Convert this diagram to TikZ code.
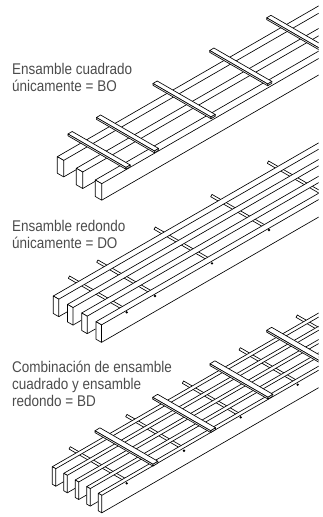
\documentclass[tikz,border=0pt]{standalone}
\usepackage{fontspec}
\setmainfont[FakeStretch=0.87]{Liberation Sans}
\usepackage{tikz}
\definecolor{lblgray}{gray}{0.3}
\tikzset{
	part/.style={draw=black,line width=0.65pt,fill=white,line join=round},
	lbl/.style={anchor=north west,inner sep=0pt,align=left,text=lblgray,font=\fontsize{15.5}{16.8}\selectfont}
}
\newcommand{\drawrail}[4]{
	\draw[part] #1 -- ++(400,-230.8) -- ++(#2,0.577*#2) -- ++(-400,230.8) -- cycle;
	\draw[part] #1 -- ++(0,#3) -- ++(#2,0.577*#2) -- ++(0,-#3) -- cycle;
	\draw[part] #1 ++(#2,0.577*#2) ++(0,#3) -- ++(#4,-0.577*#4);
}
\newcommand{\drawcross}[5]{
	\draw[part] #1 -- ++(#2,0.577*#2) -- ++(#3,-#4) -- ++(-#2,-0.577*#2) -- cycle;
	\draw[part] #1 -- ++(0,#5) -- ++(#2,0.577*#2) -- ++(0,-#5) -- cycle;
	\draw[part] #1 ++(#2,0.577*#2) ++(0,#5) -- ++(#3,-#4) -- ++(0,-#5) -- ++(-#3,#4) -- cycle;
}
\newcommand{\drawrod}[1]{
	\draw[part] #1 -- ++(55,31.7) -- ++(1.3,-2.3) -- ++(-55,-31.7) -- cycle;
}
\begin{document}
\begin{tikzpicture}[x=1pt,y=-1pt]
	\useasboundingbox (0,0) rectangle (323,517);
	\begin{scope}
		\clip (0,0) rectangle (318.5,517);
		\foreach \i / \j / \k in {57.3/156.7/12.6,76.3/168.3/12.6,95.3/180/400} {
			\drawrail{(\i,\j)}{6.4}{16.5}{\k};
		}
		\foreach \i / \j in {68/134,96.4/117.5,153/83.5,209.7/50.5,266.7/17.8} {
			\drawcross{(\i,\j)}{58}{4.2}{2.5}{1.8};
		}
		\foreach \i / \j in {68.3/278.3,96.7/262.3,154/229.3,210.7/196.7,267.3/163.3} {
			\drawrod{(\i,\j)};
		}
		\foreach \i / \j / \k in {53.3/296/8.2,67.5/304.4/8.2,81.7/313/8.2,96/321.7/400} {
			\drawrail{(\i,\j)}{5.5}{17.5}{\k};
		}
		\foreach \i / \j in {126.7/312.3,155/296,212/263.3,269/230} {
			\fill (\i,\j) circle (1.3);
		}
		\foreach \i / \j in {69/449,125.7/416.7,182.3/383.3,239/350,296/317.3} {
			\drawrod{(\i,\j)};
		}
		\foreach \i / \j / \k in {52.3/466.7/7.8,63.8/473.3/7.8,75.2/480/7.8,86.7/486.6/7.8,98.3/493.3/400} {
			\drawrail{(\i,\j)}{3.5}{17.5}{\k};
		}
		\foreach \i / \j in {95/430.8,152.7/397.3,210/363.8,266.7/330.3} {
			\drawcross{(\i,\j)}{58}{4.9}{3}{1.8};
		}
		\foreach \i / \j in {126.7/483.3,184/450.7,240.7/417.3,297.7/384.7} {
			\fill (\i,\j) circle (1.3);
		}
	\end{scope}
	\node[lbl] (square) at (12,63) {Ensamble cuadrado\\únicamente = BO};
	\node[lbl] (round) at (12,220) {Ensamble redondo\\únicamente = DO};
	\node[lbl] (combo) at (12,361) {Combinación de ensamble\\cuadrado y ensamble\\redondo = BD};
\end{tikzpicture}
\end{document}
